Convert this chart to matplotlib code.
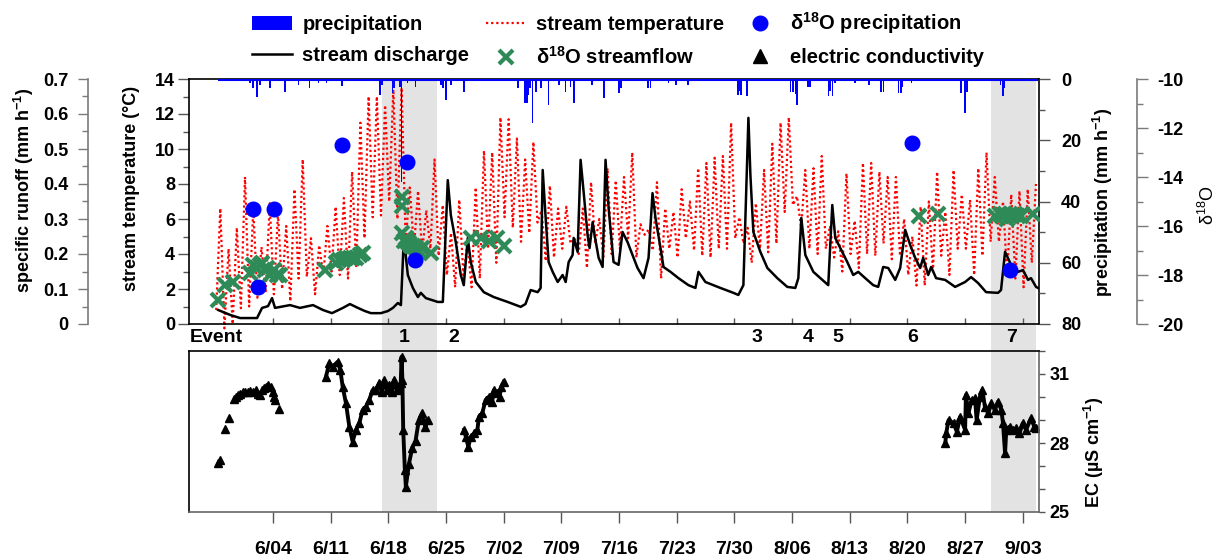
import matplotlib
matplotlib.use('Agg')
import matplotlib.pyplot as plt
import matplotlib.dates as mdates
import matplotlib.transforms as mtransforms
from matplotlib.patches import Rectangle
from matplotlib.lines import Line2D
from matplotlib.ticker import MultipleLocator, FixedLocator
import numpy as np
import pandas as pd

plt.rcParams['font.family'] = ['Liberation Sans', 'DejaVu Sans']
plt.rcParams['font.weight'] = 'bold'
plt.rcParams['font.size'] = 13
plt.rcParams['mathtext.default'] = 'regular'
plt.rcParams['axes.unicode_minus'] = False

START = pd.Timestamp('2015-06-01')   # times below are days since START

# stream discharge (specific runoff, mm/h)
q_t = [-3.66, -2.21, -1.00, 1.06, 1.67, 2.39, 2.88, 3.24, 5.06, 6.27, 7.85, 9.06, 10.15, 11.48,
       12.33, 13.30, 14.15, 14.88, 16.09, 16.94, 17.55, 18.15, 18.52, 18.88, 19.36, 19.97, 20.58,
       20.94, 21.55, 23.00, 23.61, 24.21, 24.58, 25.18, 25.79, 26.15, 26.64, 27.00, 27.61, 28.58,
       29.79, 31.48, 33.06, 33.64, 34.27, 35.12, 35.48, 35.73, 36.09, 36.45, 36.94, 37.55, 38.15,
       38.52, 38.88, 39.36, 39.49, 39.97, 40.33, 40.70, 41.18, 41.42, 41.79, 42.03, 42.52, 43.00,
       43.36, 43.73, 44.33, 44.94, 45.42, 46.03, 46.64, 47.24, 47.97, 48.58, 49.06, 49.42, 50.03,
       50.39, 51.24, 52.21, 53.42, 54.27, 54.64, 55.48, 57.30, 58.88, 59.48, 60.09, 60.70, 60.94,
       61.30, 62.15, 63.00, 64.21, 65.42, 66.39, 66.76, 67.12, 67.61, 68.58, 69.67, 70.39, 70.88,
       71.24, 71.85, 72.70, 73.42, 74.03, 74.88, 75.85, 76.45, 77.06, 77.67, 78.52, 79.12, 79.73,
       80.33, 80.94, 81.55, 81.91, 82.52, 82.88, 83.48, 84.58, 85.79, 87.00, 87.73, 88.58, 89.55,
       91.00, 91.36, 91.85, 92.58, 93.42, 94.03, 94.64, 95.00, 95.61, 95.85]
q_mm = [0.040, 0.026, 0.017, 0.017, 0.046, 0.051, 0.074, 0.046, 0.054, 0.046, 0.054, 0.040, 0.031,
        0.046, 0.057, 0.046, 0.037, 0.031, 0.031, 0.037, 0.046, 0.060, 0.054, 0.246, 0.140, 0.103,
        0.077, 0.089, 0.074, 0.063, 0.063, 0.411, 0.311, 0.234, 0.140, 0.111, 0.246, 0.177, 0.120,
        0.091, 0.077, 0.063, 0.049, 0.057, 0.097, 0.091, 0.103, 0.440, 0.303, 0.177, 0.149, 0.120,
        0.140, 0.120, 0.177, 0.197, 0.246, 0.206, 0.469, 0.377, 0.254, 0.217, 0.291, 0.254, 0.189,
        0.163, 0.469, 0.331, 0.177, 0.169, 0.263, 0.234, 0.197, 0.160, 0.131, 0.189, 0.374, 0.303,
        0.217, 0.163, 0.149, 0.131, 0.111, 0.103, 0.149, 0.120, 0.103, 0.089, 0.083, 0.111, 0.589,
        0.426, 0.263, 0.206, 0.160, 0.131, 0.106, 0.103, 0.131, 0.303, 0.197, 0.149, 0.126, 0.111,
        0.340, 0.246, 0.217, 0.177, 0.140, 0.149, 0.131, 0.111, 0.106, 0.163, 0.160, 0.126, 0.160,
        0.269, 0.226, 0.189, 0.160, 0.189, 0.140, 0.163, 0.131, 0.126, 0.106, 0.120, 0.134, 0.117,
        0.091, 0.089, 0.097, 0.206, 0.169, 0.149, 0.154, 0.126, 0.131, 0.106, 0.103]

# stream temperature: daily minimum (early) and maximum (afternoon), 28 May - 4 Sep
temp_first_day = -4
temp_min = [0.8, -0.25, 0.0, 0.9, 1.0, 1.5, 1.8, 1.7, 2.0, 1.3,
            2.6, 2.7, 1.7, 2.8, 3.0, 2.8, 2.6, 3.2, 4.9, 6.1,
            6.2, 7.0, 6.0, 4.7, 4.3, 4.1, 4.3, 3.9, 2.8, 2.1,
            2.8, 2.1, 2.6, 4.3, 3.5, 6.1, 5.5, 4.7, 5.2, 5.8,
            3.6, 3.8, 4.3, 4.6, 4.0, 3.2, 4.6, 3.8, 4.0, 4.3,
            4.9, 3.8, 5.1, 4.2, 2.6, 4.3, 3.8, 4.9, 4.2, 3.9,
            3.8, 4.3, 4.3, 4.9, 4.6, 3.5, 4.3, 4.1, 4.6, 6.4,
            6.8, 5.5, 4.3, 4.0, 4.3, 3.8, 3.0, 4.0, 3.2, 4.0,
            3.9, 4.6, 3.7, 3.9, 2.8, 2.2, 2.2, 3.0, 3.9, 2.8,
            4.3, 4.3, 2.8, 3.9, 4.7, 4.7, 2.8, 2.6, 2.1, 3.5]
temp_max = [6.6, 4.3, 5.5, 8.4, 6.6, 4.4, 6.9, 6.3, 5.6, 7.7,
            9.4, 4.9, 4.5, 5.6, 6.7, 7.2, 8.7, 11.5, 13.0, 13.0,
            12.5, 13.4, 13.5, 7.8, 7.6, 6.5, 9.4, 6.8, 5.2, 7.1,
            4.6, 7.8, 9.9, 9.8, 11.8, 11.7, 10.6, 9.4, 10.4, 6.5,
            7.9, 6.6, 6.7, 4.9, 6.6, 8.1, 6.0, 8.9, 8.2, 8.4,
            9.8, 5.7, 5.4, 8.1, 6.6, 6.4, 7.7, 7.0, 8.9, 9.2,
            9.5, 9.6, 11.5, 6.1, 5.5, 6.9, 8.8, 10.3, 11.5, 11.8,
            7.3, 8.8, 8.9, 9.6, 5.6, 5.3, 8.6, 5.9, 9.2, 9.2,
            8.7, 8.4, 8.4, 6.0, 5.0, 6.7, 7.0, 8.7, 6.4, 8.8,
            7.4, 7.1, 8.9, 9.8, 8.4, 7.0, 7.4, 7.6, 7.7, 8.0]

# precipitation (mm/h)
precip_t = [0.21, 0.6, 1.02, 1.42, 2.64, 4.45, 6.07, 7.41, 8.5, 9.5, 11.3, 11.4, 16.0, 16.2,
            17.5, 17.7, 18.4, 18.6, 19.3, 20.3, 23.4, 23.6, 23.97, 24.6, 26.2, 32.7, 33.6, 33.8,
            34.0, 34.2, 34.5, 34.9, 35.5, 36.45, 37.7, 38.5, 39.1, 39.5, 41.75, 43.2, 45.0, 45.2,
            48.5, 48.8, 51.0, 51.9, 53.4, 59.4, 59.6, 59.8, 60.5, 65.8, 66.1, 66.4, 66.6, 67.9,
            68.2, 70.4, 70.6, 70.9, 71.2, 73.6, 75.3, 76.8, 77.1, 78.9, 79.2, 79.4, 80.5, 86.5,
            87.0, 87.2, 91.3, 91.6, 91.8]
precip_mm = [1.4, 3.0, 5.8, 1.8, 2.9, 4.1, 1.8, 2.9, 1.4, 1.2, 1.8, 2.4, 5.2, 2.0,
             4.7, 3.0, 2.5, 33.5, 1.4, 2.5, 2.0, 3.0, 6.9, 1.8, 4.1, 3.0, 7.9, 7.9,
             5.2, 3.0, 14.4, 4.1, 3.0, 8.5, 1.8, 4.1, 2.5, 7.9, 1.8, 6.3, 4.6, 3.0,
             3.0, 3.0, 1.4, 1.8, 1.8, 5.2, 4.0, 5.2, 5.6, 4.1, 4.1, 5.0, 8.5, 2.5,
             2.5, 5.6, 4.0, 5.6, 1.4, 1.2, 1.8, 4.1, 4.1, 4.6, 4.6, 2.5, 1.4, 4.6,
             11.2, 4.1, 2.0, 5.6, 3.0]
precip_record = [-3.7, 95.9]

# d18O of precipitation and streamflow (permil)
iso_p_t = [0.54, 1.22, 3.16, 11.4, 19.3, 20.2, 80.5, 92.5]
iso_p = [-15.3, -18.5, -15.3, -12.7, -13.4, -17.4, -12.6, -17.8]
iso_s_t = [-3.63, -2.82, -1.81, 0.21, 0.6, 1.02, 1.42, 1.7, 2.03, 2.3, 2.64, 3.1, 3.53, 3.85,
           9.3, 10.7, 11.0, 11.5, 11.9, 12.3, 12.7, 13.1, 13.5, 13.9,
           18.6, 18.6, 18.7, 18.9, 19.1, 19.3, 19.5, 19.7, 20.0, 20.3, 20.7, 21.1, 22.2,
           27.0, 28.2, 29.2, 30.2, 31.0,
           81.4, 83.7, 90.6, 91.2, 91.5, 91.8, 92.1, 92.4, 92.7, 93.0, 93.4, 93.8, 95.2]
iso_s = [-19.0, -18.4, -18.3, -17.9, -17.6, -17.7, -17.6, -17.5, -17.8, -17.7, -18.0, -17.8, -18.0, -18.0,
         -17.8, -17.5, -17.4, -17.4, -17.3, -17.3, -17.3, -17.3, -17.2, -17.1,
         -14.8, -15.2, -16.3, -16.6, -16.5, -16.6, -16.7, -16.8, -16.8, -16.9, -17.0, -16.9, -17.1,
         -16.5, -16.5, -16.6, -16.5, -16.8,
         -15.6, -15.5, -15.6, -15.5, -15.6, -15.5, -15.7, -15.5, -15.6, -15.5, -15.6, -15.6, -15.5]

# electric conductivity (uS/cm): early sparse record, then hourly record with gaps
ec0_t = [-3.63, -3.4, -2.78, -2.29, -1.77, -1.5, -1.28, -1.0, -0.68, -0.35, -0.07, 0.2, 0.54,
         0.94, 1.2, 1.42, 1.7, 1.95, 2.2, 2.43, 2.76, 2.96, 3.1, 3.24, 3.69]
ec0 = [27.12, 27.26, 28.6, 29.1, 29.9, 30.0, 30.09, 30.15, 30.2, 30.2, 30.23, 30.25, 30.23,
       30.3, 30.15, 30.09, 30.3, 30.38, 30.45, 30.52, 30.45, 30.23, 30.0, 29.87, 29.5]
ec_t = [9.42, 9.83, 10.24, 10.84, 11.17, 11.45, 11.85, 12.26, 12.66, 13.06, 13.47, 13.87, 14.27,
        14.68, 15.09, 15.49, 15.89, 16.2, 16.5, 16.8, 17.1, 17.4, 17.7, 18.0, 18.3, 18.5, 18.6,
        18.7, 18.8, 19.0, 19.12, 19.5, 19.9, 20.3, 20.7, 21.1, 21.5, 21.75, np.nan,
        26.2, 26.4, 26.7, 27.0, 27.4, 27.8, 28.0, 28.4, 28.8, 29.2, 29.6, 29.8, 30.2, 30.5, 30.7,
        31.0, np.nan,
        84.6, 84.7, 85.0, 85.6, 86.0, 86.4, 87.0, 87.1, 87.4, 87.8, 88.2, 88.4, 88.8, 89.1, 89.4,
        89.8, 90.2, 90.6, 91.0, 91.4, 91.6, 91.85, 92.0, 92.4, 92.8, 93.2, 93.6, 94.0, 94.4, 95.0,
        95.4, 95.6]
ec = [30.88, 31.47, 31.32, 31.53, 31.17, 30.45, 29.73, 28.71, 28.06, 28.57, 28.86, 29.43, 29.58,
      29.87, 30.3, 30.3, 30.6, 30.2, 30.74, 30.3, 30.52, 30.2, 30.74, 30.3, 30.45, 30.6, 31.75,
      30.74, 28.57, 26.83, 26.1, 27.1, 27.8, 28.1, 29.0, 29.3, 28.7, 29.0, np.nan,
      28.57, 28.27, 27.84, 28.27, 28.42, 28.57, 29.14, 29.3, 29.87, 30.01, 29.8, 30.3, 30.16,
      30.01, 30.45, 30.67, np.nan,
      27.99, 28.42, 29.0, 28.86, 28.49, 29.14, 28.57, 30.09, 29.29, 29.87, 29.94, 29.0, 30.01,
      30.3, 29.58, 29.29, 29.73, 29.43, 29.8, 29.43, 28.86, 27.55, 28.57, 28.71, 28.57, 28.64,
      28.42, 28.86, 28.57, 29.07, 28.71, 28.64]

# events
event_spans = [(16.2, 22.9), (90.15, 95.6)]
event_t = [18.9, 24.9, 61.7, 68.0, 71.6, 80.6, 92.6]
event_names = ['1', '2', '3', '4', '5', '6', '7']
week_ticks = pd.date_range('2015-06-04', '2015-09-03', freq='7D')
tick_labels = [f'{d.month}/{d.day:02d}' for d in week_ticks]


T0 = mdates.date2num(START.to_pydatetime())


def dn(days):
    return T0 + np.asarray(days, dtype=float)


W, H = 1223, 556
fig = plt.figure(figsize=(W / 100, H / 100), dpi=100)


def fx(px):
    return px / W


def fy(py):
    return 1 - py / H


def pt(px):
    return px * 72 / 100


ax = fig.add_axes([fx(189), fy(324), (1039 - 189) / W, (324 - 79) / H])
ax_ec = fig.add_axes([fx(189), fy(512), (1039 - 189) / W, (512 - 351) / H])
ax_q = ax.twinx()
ax_p = ax.twinx()
ax_d = ax.twinx()
for a in (ax, ax_ec):
    a.patch.set_visible(False)

xlim = (T0 - 7.2, T0 + 95.97)
tick_pos = mdates.date2num(week_ticks.to_pydatetime())

# gray shading of the two events, across both panels
blend = mtransforms.blended_transform_factory(ax.transData, fig.transFigure)
for a, b in event_spans:
    fig.patches.append(Rectangle((dn(a), fy(512)), b - a, fy(79) - fy(512), transform=blend,
                                 facecolor='#e3e3e3', edgecolor='none', zorder=-1))

# temperature: alternate daily minimum and maximum
days = np.arange(temp_first_day, temp_first_day + len(temp_max))
temp_t = np.column_stack([days + 0.1, days + 0.6]).ravel()
temp_v = np.column_stack([temp_min, temp_max]).ravel()
l_temp, = ax.plot(dn(temp_t), temp_v, color='#ff0000', ls=(0, (1, 1.3)), lw=1.6, clip_on=False,
                  label='stream temperature')
ax.set_ylim(0, 14)
ax.set_xlim(*xlim)
ax.yaxis.set_major_locator(MultipleLocator(2))
ax.yaxis.set_minor_locator(MultipleLocator(1))
ax.tick_params(axis='y', which='major', direction='out', length=pt(11), width=1, pad=2, color='#555555')
ax.tick_params(axis='y', which='minor', direction='out', length=pt(6), width=1, color='#555555')
ax.xaxis.set_major_locator(FixedLocator(tick_pos))
ax.tick_params(axis='x', which='major', direction='in', length=pt(6), width=1, labelbottom=False,
               color='#555555')
for s in ax.spines.values():
    s.set_linewidth(1.2)

# discharge
l_q, = ax_q.plot(dn(q_t), q_mm, color='black', lw=1.8, label='stream discharge')
ax_q.set_ylim(0, 0.7)
for s in ax_q.spines.values():
    s.set_visible(False)
ax_q.spines['left'].set_visible(True)
ax_q.spines['left'].set_position(('outward', pt(101)))
ax_q.spines['left'].set_color('#7a7a7a')
ax_q.spines['left'].set_linewidth(1.2)
ax_q.yaxis.tick_left()
ax_q.yaxis.set_major_locator(MultipleLocator(0.1))
ax_q.yaxis.set_minor_locator(MultipleLocator(0.05))
ax_q.yaxis.set_major_formatter(plt.FuncFormatter(lambda v, p: '0' if v == 0 else f'{v:.1f}'))
ax_q.tick_params(axis='y', which='major', direction='out', length=pt(10), width=1, pad=7, color='#7a7a7a')
ax_q.tick_params(axis='y', which='minor', direction='out', length=pt(6), width=1, color='#7a7a7a')

# precipitation (inverted axis)
b_p = ax_p.bar(dn(precip_t), precip_mm, width=0.2, color='#0000ff', label='precipitation')
ax_p.hlines(0.4, dn(precip_record[0]), dn(precip_record[1]), color='#0000ff', lw=1.5)
ax_p.set_ylim(80, 0)
for s in ax_p.spines.values():
    s.set_visible(False)
ax_p.yaxis.set_major_locator(MultipleLocator(20))
ax_p.yaxis.set_minor_locator(MultipleLocator(10))
ax_p.tick_params(axis='y', which='major', direction='out', length=pt(11), width=1, pad=8, color='#555555')
ax_p.tick_params(axis='y', which='minor', direction='out', length=pt(6), width=1, color='#555555')

# isotopes
l_is, = ax_d.plot(dn(iso_s_t), iso_s, ls='none', marker='x', ms=10, mew=3, color='#2e8b57',
                  label='δ$^{18}$O streamflow')
l_ip, = ax_d.plot(dn(iso_p_t), iso_p, ls='none', marker='o', ms=10.5, color='#0000ff',
                  label='δ$^{18}$O precipitation')
ax_d.set_ylim(-20, -10)
for s in ax_d.spines.values():
    s.set_visible(False)
ax_d.spines['right'].set_visible(True)
ax_d.spines['right'].set_position(('outward', pt(98)))
ax_d.spines['right'].set_color('#7a7a7a')
ax_d.spines['right'].set_linewidth(1.2)
ax_d.yaxis.set_major_locator(MultipleLocator(2))
ax_d.yaxis.set_minor_locator(MultipleLocator(1))
ax_d.tick_params(axis='y', which='major', direction='out', length=pt(11), width=1, pad=7, color='#7a7a7a')
ax_d.tick_params(axis='y', which='minor', direction='out', length=pt(6), width=1, color='#7a7a7a')

# EC panel
ax_ec.plot(dn(ec0_t), ec0, ls='none', marker='^', ms=5.5, color='black')
ax_ec.plot(dn(ec_t), ec, ls='-', lw=2.8, marker='^', ms=5.5, color='black')
ax_ec.set_xlim(*xlim)
ax_ec.set_ylim(25, 32)
ax_ec.yaxis.tick_right()
ax_ec.yaxis.set_major_locator(FixedLocator([25, 28, 31]))
ax_ec.yaxis.set_minor_locator(MultipleLocator(1))
ax_ec.tick_params(axis='y', which='both', direction='out', length=pt(6), width=1, pad=3, color='#555555')
ax_ec.set_xticks(tick_pos, tick_labels)
ax_ec.tick_params(axis='x', direction='out', length=pt(11), width=1, pad=pt(18), color='#555555',
                  labelsize=14)
for s in ax_ec.spines.values():
    s.set_linewidth(1.2)
ax_ec.spines['bottom'].set_color('#666666')
ax_ec.spines['right'].set_color('#666666')

# event labels
fig.text(fx(190), fy(337), 'Event', ha='left', va='center', fontsize=14)
for t, name in zip(event_t, event_names):
    ax.text(dn(t), fy(337), name, transform=blend, ha='center', va='center', fontsize=14)

# axis titles
fig.text(fx(24), fy(190), 'specific runoff (mm h$^{-1}$)', rotation=90, ha='center', va='center')
fig.text(fx(131), fy(188), 'stream temperature (°C)', rotation=90, ha='center', va='center')
fig.text(fx(1103), fy(202), 'precipitation (mm h$^{-1}$)', rotation=90, ha='center', va='center')
fig.text(fx(1208), fy(205), 'δ$^{18}$O', rotation=90, ha='center', va='center', fontweight='normal')
fig.text(fx(1094), fy(452), 'EC (µS cm$^{-1}$)', rotation=90, ha='center', va='center')

# legend (EC key drawn with a larger triangle, as in the original key)
ec_key = Line2D([], [], ls='none', marker='^', ms=10, color='black')
handles = [b_p, l_q, l_temp, l_is, l_ip, ec_key]
labels = ['precipitation', 'stream discharge', 'stream temperature', 'δ$^{18}$O streamflow',
          'δ$^{18}$O precipitation', 'electric conductivity']
fig.legend(handles, labels, ncol=3, loc='upper left', bbox_to_anchor=(fx(238), fy(-4)),
           frameon=False, fontsize=14.5, handlelength=2.0, handletextpad=0.5, columnspacing=0.8,
           labelspacing=0.6, borderpad=0.2)

fig.savefig('out.png', dpi=100)
